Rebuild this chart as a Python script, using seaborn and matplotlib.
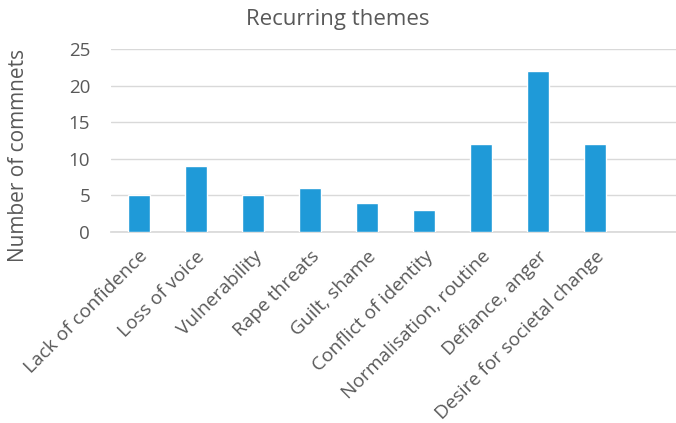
import matplotlib
matplotlib.use("Agg")
import matplotlib.pyplot as plt
import seaborn as sns
import pandas as pd

categories = ["Lack of confidence", "Loss of voice", "Vulnerability", "Rape threats",
              "Guilt, shame", "Conflict of identity", "Normalisation, routine",
              "Defiance, anger", "Desire for societal change"]
values = [5, 9, 5, 6, 4, 3, 12, 22, 12]
yticks = [0, 5, 10, 15, 20, 25]

sns.set_theme(style="white")
plt.rcParams['font.family'] = ['Open Sans', 'DejaVu Sans']
txt = "#595959"

df = pd.DataFrame({"theme": categories, "count": values})

fig = plt.figure(figsize=(6.76, 4.23), dpi=100)
ax = fig.add_axes([0.164, 0.4515, 0.836, 0.4325])
sns.barplot(data=df, x="theme", y="count", color="#1f9ad8", width=0.39,
            saturation=1, ax=ax, zorder=3)
ax.set_xlim(-0.49, 9.42)
ax.set_ylim(0, 25)
ax.set_yticks(yticks)
ax.set_yticklabels([str(t) for t in yticks], fontsize=13.5, color=txt)
ax.yaxis.grid(True, color="#d9d9d9", linewidth=1, zorder=0)
ax.xaxis.grid(False)
for s in ["top", "right", "left"]:
    ax.spines[s].set_visible(False)
ax.spines["bottom"].set_color("#d9d9d9")
ax.tick_params(axis="y", length=0, pad=15)
ax.tick_params(axis="x", length=0, pad=11)
ax.set_xticks(range(len(categories)))
ax.set_xticklabels(categories, rotation=45, ha="right", rotation_mode="anchor",
                   fontsize=13.8, color=txt)
ax.set_xlabel("")
ax.set_ylabel("Number of commnets", fontsize=15, color=txt)
ax.yaxis.set_label_coords(-0.145, 0.42)
fig.text(0.5, 1 - 19/423, "Recurring themes", ha="center", va="center",
         fontsize=16, color=txt)
fig.savefig("out.png", dpi=100)
